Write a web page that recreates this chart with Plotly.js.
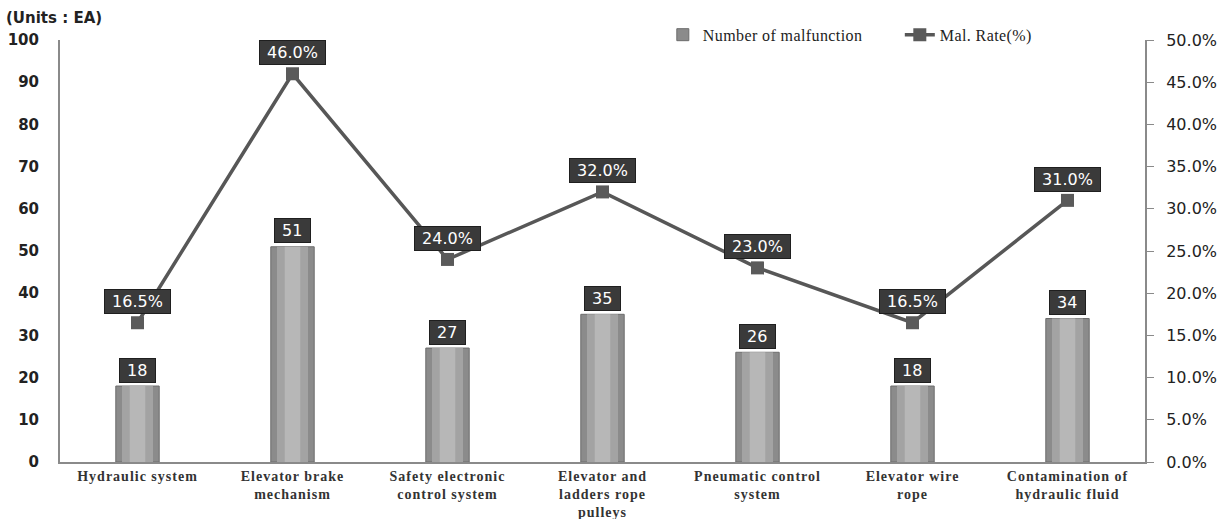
<!DOCTYPE html>
<html>
<head>
<meta charset="utf-8">
<script src="https://cdn.plot.ly/plotly-3.0.1.min.js"></script>
<style>
  html, body { margin: 0; padding: 0; background: #fff; }
  #chart { width: 1232px; height: 519px; }
  /* wider tracking for the category names and legend entries */
  #chart .xtick text { letter-spacing: 1px; }
  #chart .legendtext { letter-spacing: 0.4px; }
</style>
</head>
<body>
<div id="chart"></div>
<script>
// Malfunction counts and malfunction rates per elevator subsystem
const categories = [
  'Hydraulic system',
  'Elevator brake<br>mechanism',
  'Safety electronic<br>control system',
  'Elevator and<br>ladders rope<br>pulleys',
  'Pneumatic control<br>system',
  'Elevator wire<br>rope',
  'Contamination of<br>hydraulic fluid'
];
const malfunctionCounts = [18, 51, 27, 35, 26, 18, 34];
const malfunctionRates = [16.5, 46.0, 24.0, 32.0, 23.0, 16.5, 31.0];

const countTicks = [0, 10, 20, 30, 40, 50, 60, 70, 80, 90, 100];
const rateTicks = [0, 5, 10, 15, 20, 25, 30, 35, 40, 45, 50];

const xs = categories.map((_, i) => i);

// shaded columns: an outer bar plus two lighter inner bands
const barBands = [
  { width: 0.28, color: '#8b8b8b', line: { color: '#6c6c6c', width: 1 } },
  { width: 0.20, color: '#a3a3a3', line: { width: 0 } },
  { width: 0.10, color: '#b7b7b7', line: { width: 0 } }
];

const traces = barBands.map((b, k) => ({
  type: 'bar',
  name: 'Number of malfunction',
  x: xs,
  y: malfunctionCounts,
  width: b.width,
  marker: { color: b.color, line: b.line },
  showlegend: k === 0,
  hoverinfo: k === 0 ? 'y' : 'skip'
}));

traces.push({
  type: 'scatter',
  mode: 'lines+markers',
  name: 'Mal. Rate(%)',
  x: xs,
  y: malfunctionRates,
  yaxis: 'y2',
  line: { color: '#575757', width: 3.5 },
  marker: { symbol: 'square', size: 13, color: '#5a5a5a' }
});

const boxStyle = {
  showarrow: false,
  bgcolor: '#3a3a3a',
  bordercolor: '#1f1f1f',
  borderwidth: 1,
  borderpad: 2,
  font: { family: 'DejaVu Sans', size: 16, color: '#ffffff' }
};

const annotations = [];
malfunctionCounts.forEach((v, i) => {
  annotations.push(Object.assign({}, boxStyle, {
    x: i, y: v, xref: 'x', yref: 'y', yshift: 16,
    text: '&nbsp;' + v + '&nbsp;'
  }));
});
malfunctionRates.forEach((v, i) => {
  annotations.push(Object.assign({}, boxStyle, {
    x: i, y: v, xref: 'x', yref: 'y2', yshift: 21,
    text: '&nbsp;' + v.toFixed(1) + '%&nbsp;'
  }));
});
annotations.push({
  text: '(Units : EA)',
  xref: 'paper', yref: 'paper',
  x: -0.052, y: 1.052, xanchor: 'left', yanchor: 'middle',
  showarrow: false,
  font: { family: 'DejaVu Sans', size: 15, color: '#222', weight: 'bold' }
});

const layout = {
  width: 1232,
  height: 519,
  margin: { l: 60, r: 87, t: 40, b: 57, autoexpand: false },
  paper_bgcolor: '#ffffff',
  plot_bgcolor: '#ffffff',
  barmode: 'overlay',
  showlegend: true,
  legend: {
    orientation: 'h',
    xref: 'container', yref: 'container',
    x: 0.538, y: 0.933,
    xanchor: 'left', yanchor: 'middle',
    bgcolor: 'rgba(0,0,0,0)',
    font: { family: 'Liberation Serif', size: 16, color: '#222' },
    entrywidthmode: 'pixels',
    entrywidth: 192,
    traceorder: 'normal'
  },
  xaxis: {
    range: [-0.5, 6.5],
    tickmode: 'array',
    tickvals: xs,
    ticktext: categories,
    showgrid: false,
    zeroline: false,
    showline: true,
    linecolor: '#8a8a8a',
    linewidth: 2,
    ticks: '',
    tickangle: 0,
    automargin: false,
    tickfont: { family: 'Liberation Serif', size: 14, color: '#333', weight: 'bold' }
  },
  yaxis: {
    range: [0, 100],
    tickmode: 'array',
    tickvals: countTicks,
    ticktext: countTicks.map(String),
    showgrid: false,
    zeroline: false,
    showline: true,
    linecolor: '#8a8a8a',
    linewidth: 2,
    ticks: '',
    automargin: false,
    ticklabelstandoff: 16,
    tickfont: { family: 'DejaVu Sans', size: 15, color: '#222', weight: 'bold' }
  },
  yaxis2: {
    overlaying: 'y',
    side: 'right',
    range: [0, 50],
    tickmode: 'array',
    tickvals: rateTicks,
    ticktext: rateTicks.map(v => v.toFixed(1) + '%'),
    showgrid: false,
    zeroline: false,
    showline: true,
    linecolor: '#8a8a8a',
    linewidth: 2,
    ticks: 'outside',
    ticklen: 7,
    tickcolor: '#8a8a8a',
    automargin: false,
    ticklabelstandoff: 9,
    tickfont: { family: 'DejaVu Sans', size: 16, color: '#222' }
  },
  annotations: annotations
};

Plotly.newPlot('chart', traces, layout, { displayModeBar: false, staticPlot: true });
</script>
</body>
</html>
